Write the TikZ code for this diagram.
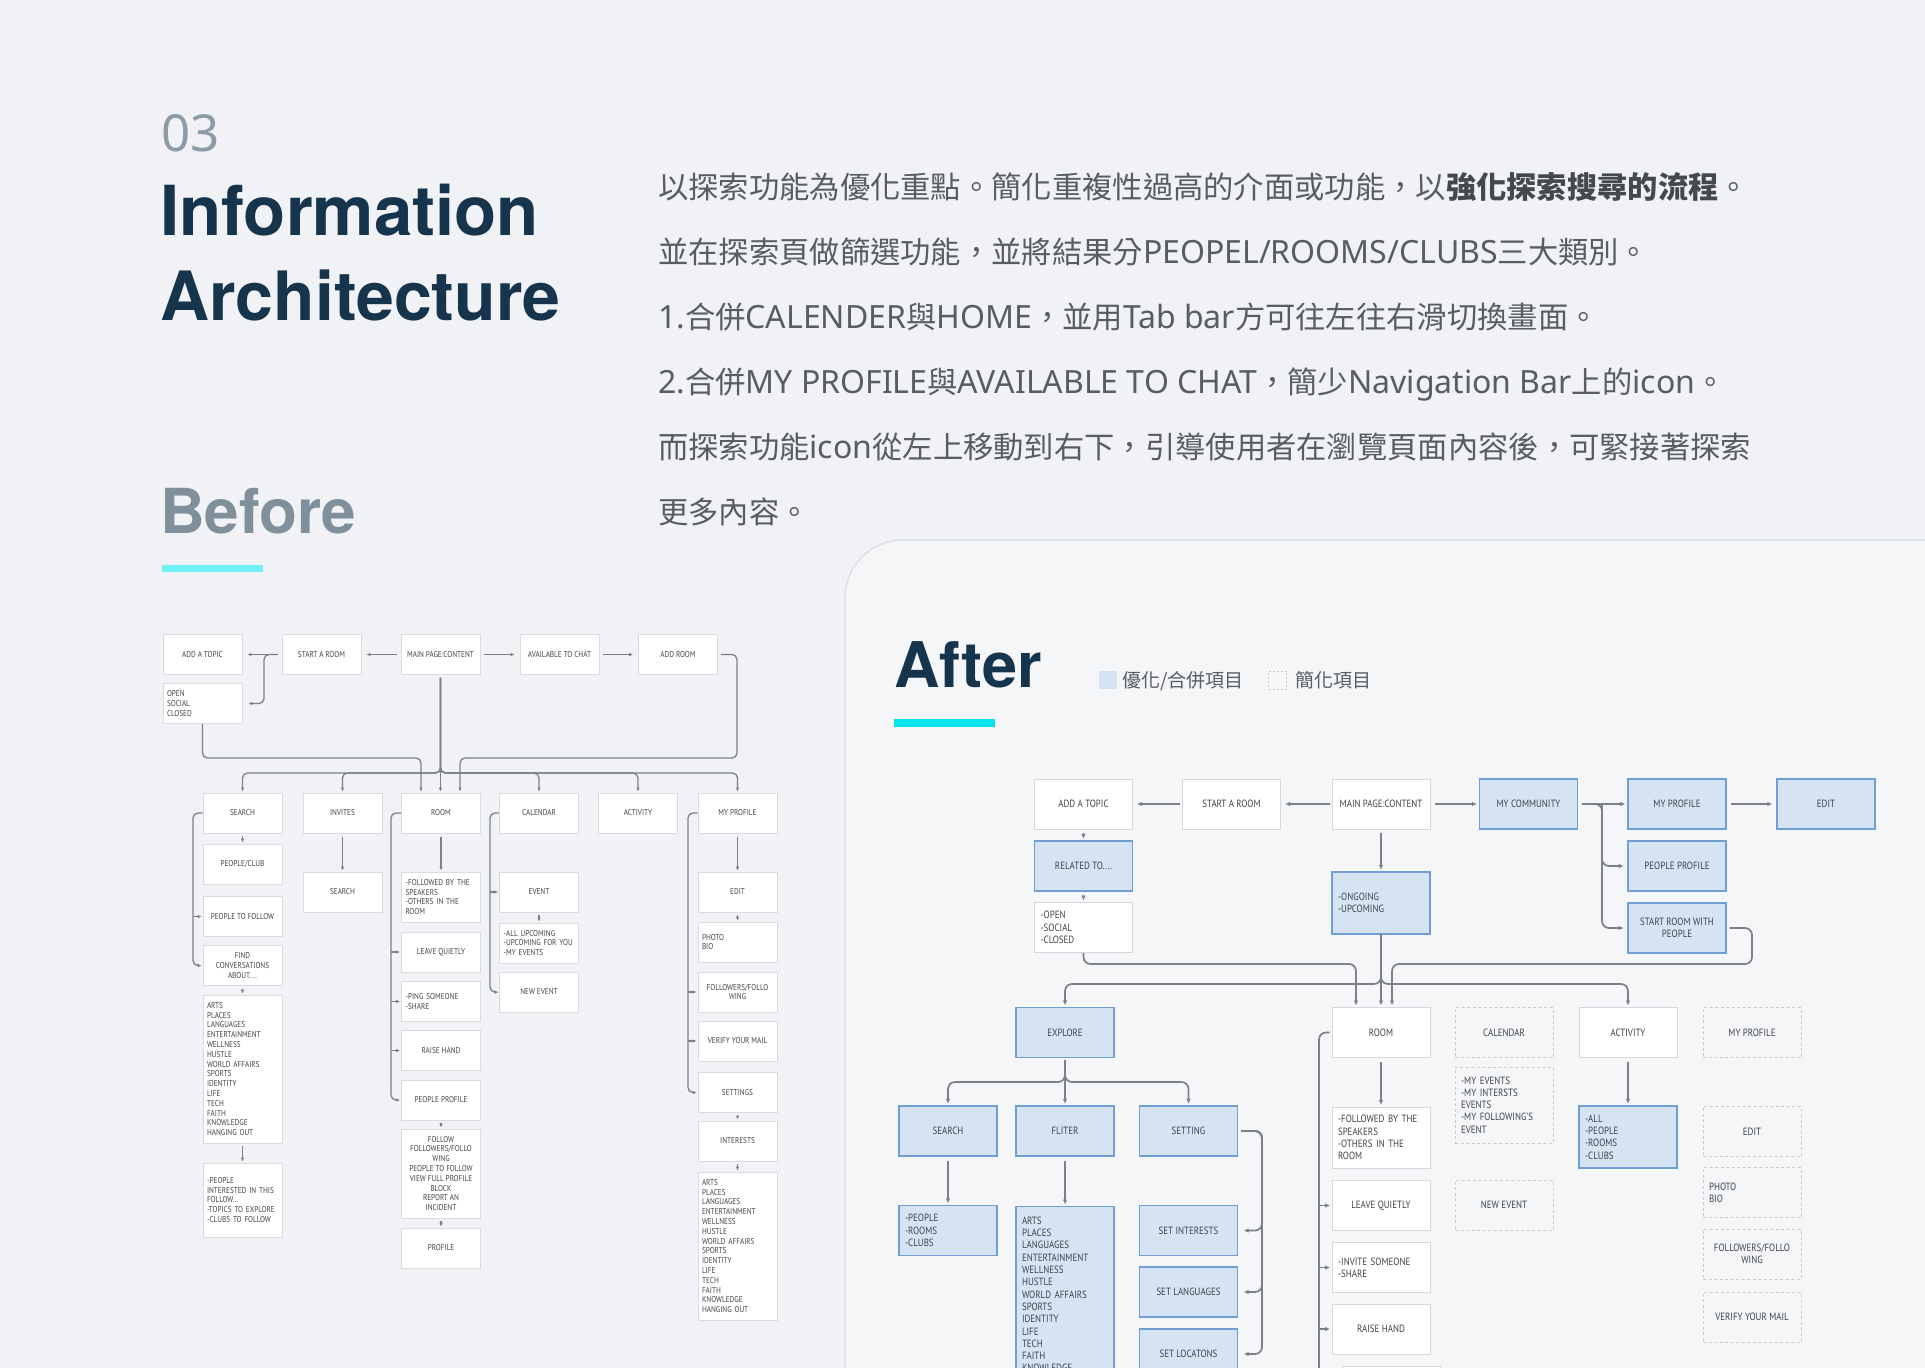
\documentclass[tikz,border=0pt]{standalone}
\usepackage{fontspec}
\usetikzlibrary{arrows.meta}
\newfontfamily\latfont{Noto Sans}
\newfontfamily\headfont{TeX Gyre Heros}
\newfontfamily\cjkfont{Noto Sans CJK TC}
\newfontfamily\boxfont[FakeStretch=0.85]{PT Sans}
\definecolor{pagebg}{HTML}{F0F2F5}
\definecolor{panelbg}{HTML}{F4F6F8}
\definecolor{panelline}{HTML}{DDE0E5}
\definecolor{navy}{HTML}{17344D}
\definecolor{grayzero}{HTML}{8C9BA6}
\definecolor{beforec}{HTML}{7F909B}
\definecolor{cyanA}{HTML}{6FF0F6}
\definecolor{cyanB}{HTML}{00E5EF}
\definecolor{para}{HTML}{595D62}
\definecolor{parab}{HTML}{45494E}
\definecolor{bbord}{HTML}{D8DCE1}
\definecolor{abord}{HTML}{D4D8DD}
\definecolor{bluefill}{HTML}{D5E3F3}
\definecolor{blueline}{HTML}{6F9FD3}
\definecolor{dashc}{HTML}{C6CAD0}
\definecolor{conn}{HTML}{7D8187}
\definecolor{txt}{HTML}{3E4349}
\newcommand\bxfont{\boxfont\fontsize{8.5}{9.8}\selectfont}
\newcommand\axfont{\boxfont\fontsize{10.5}{12.3}\selectfont}
\newcommand\latsz{\latfont\fontsize{32}{30.3}\selectfont}
\tikzset{
  bx/.style={draw=bbord, fill=white, line width=0.8pt, minimum width=79pt, minimum height=40pt,
    inner xsep=4pt, inner ysep=4pt, align=center, font=\bxfont, text=txt},
  bxl/.style={bx, text width=71pt, align=left},
  ax/.style={draw=abord, fill=white, line width=1pt, minimum width=98pt, minimum height=50pt,
    inner xsep=6pt, inner ysep=6pt, align=center, font=\axfont, text=txt},
  axl/.style={ax, text width=86pt, align=left},
  blu/.style={fill=bluefill, draw=blueline, line width=1.3pt},
  dsh/.style={fill=none, draw=dashc, line width=1pt, dash pattern=on 3pt off 2.5pt},
  bcon/.style={draw=conn, line width=1.3pt, rounded corners=5pt, shorten >=1pt, -{Latex[length=4pt,width=3.6pt]}},
  acon/.style={draw=conn, line width=1.7pt, rounded corners=7pt, shorten >=1.5pt, -{Latex[length=5pt,width=4.6pt]}},
  head/.style={anchor=base west, inner sep=0pt},
  ptext/.style={anchor=base west, inner sep=0pt, text=para, font=\cjkfont\fontsize{30.3}{30.3}\selectfont}
}
\begin{document}
\begin{tikzpicture}[x=1pt,y=-1pt]
\useasboundingbox (0,0) rectangle (1925,1368);
\clip (0,0) rectangle (1925,1368);
\fill[pagebg] (0,0) rectangle (1925,1368);
\path[fill=panelbg, draw=panelline, line width=1.5pt, rounded corners=58pt]
  (845,1440) -- (845,540) -- (1990,540) -- (1990,1440) -- cycle;

% ---------- headings ----------
\node[head, text=grayzero, font=\latfont\fontsize{51}{51}\selectfont] (h03) at (161,151) {03};
\node[head, text=navy, font=\headfont\bfseries\fontsize{69}{69}\selectfont] (hinfo) at (160,235) {Information};
\node[head, text=navy, font=\headfont\bfseries\fontsize{68}{68}\selectfont] (harch) at (160,320) {Architecture};
\node[head, text=beforec, font=\headfont\bfseries\fontsize{62}{62}\selectfont] (hbefore) at (160,533) {Before};
\fill[cyanA] (162,565) rectangle (263,572);
\node[head, text=navy, font=\headfont\bfseries\fontsize{63}{63}\selectfont] (hafter) at (894,687) {After};
\fill[cyanB] (894,719) rectangle (995,727);

% legend
\node[fill=bluefill, minimum size=18pt, inner sep=0pt] (leg1) at (1108,680) {};
\node[anchor=base west, inner sep=0pt, text=para, font=\cjkfont\fontsize{19}{19}\selectfont] (leg1t) at (1122,687) {優化/合併項目};
\node[draw=dashc, dash pattern=on 2pt off 2pt, line width=0.8pt, minimum size=18pt, inner sep=0pt] (leg2) at (1277.5,680) {};
\node[anchor=base west, inner sep=0pt, text=para, font=\cjkfont\fontsize{19}{19}\selectfont] (leg2t) at (1295,687) {簡化項目};

% ---------- paragraph ----------
\node[ptext] (p1) at (658,198) {以探索功能為優化重點。簡化重複性過高的介面或功能，以{\color{parab}\bfseries 強化探索搜尋的流程}。};
\node[ptext] (p2) at (658,263) {並在探索頁做篩選功能，並將結果分{\latsz PEOPEL/ROOMS/CLUBS}三大類別。};
\node[ptext] (p3) at (658,328) {{\latsz 1.}合併{\latsz CALENDER}與{\latsz HOME}，並用{\latsz Tab bar}方可往左往右滑切換畫面。};
\node[ptext] (p4) at (658,393) {{\latsz 2.}合併{\latsz MY PROFILE}與{\latsz AVAILABLE TO CHAT}，簡少{\latsz Navigation Bar}上的{\latsz icon}。};
\node[ptext] (p5) at (658,458) {而探索功能{\latsz icon}從左上移動到右下，引導使用者在瀏覽頁面內容後，可緊接著探索};
\node[ptext] (p6) at (658,523) {更多內容。};

% ---------- BEFORE ----------
\node[bx] (btopic) at (202.5,654.5) {ADD A TOPIC};
\node[bx] (bstart) at (321.5,654.5) {START A ROOM};
\node[bx] (bmain) at (440.5,654.5) {MAIN PAGE:CONTENT};
\node[bx] (bchat) at (559.5,654.5) {AVAILABLE TO CHAT};
\node[bx] (baddroom) at (678,654.5) {ADD ROOM};
\node[bxl] (bopen) at (202.5,703.5) {OPEN\\SOCIAL\\CLOSED};

\node[bx] (bsearch) at (242.5,813) {SEARCH};
\node[bx] (binvites) at (342.5,813) {INVITES};
\node[bx] (broom) at (441,813) {ROOM};
\node[bx] (bcal) at (539,813) {CALENDAR};
\node[bx] (bact) at (638,813) {ACTIVITY};
\node[bx] (bmyprof) at (737.5,813) {MY PROFILE};

\node[bx] (bpc) at (242.5,864) {PEOPLE/CLUB};
\node[bx] (bptf) at (242.5,916.5) {PEOPLE TO FOLLOW};
\node[bx] (bfind) at (242.5,965.5) {FIND\\CONVERSATIONS\\ABOUT....};
\node[bxl, minimum height=148pt] (barts) at (242.5,1069) {ARTS\\PLACES\\LANGUAGES\\ENTERTAINMENT\\WELLNESS\\HUSTLE\\WORLD~AFFAIRS\\SPORTS\\IDENTITY\\LIFE\\TECH\\FAITH\\KNOWLEDGE\\HANGING~OUT};
\node[bxl, minimum height=74pt] (bpint) at (242.5,1200) {-PEOPLE\\INTERESTED~IN~THIS\\FOLLOW...\\-TOPICS~TO~EXPLORE\\-CLUBS~TO~FOLLOW};

\node[bx] (bisearch) at (342.5,892) {SEARCH};

\node[bxl, minimum height=50pt] (bfol) at (441,897) {-FOLLOWED~BY~THE\\SPEAKERS\\-OTHERS~IN~THE\\ROOM};
\node[bx] (bleave) at (441,952) {LEAVE QUIETLY};
\node[bxl] (bping) at (441,1001.5) {-PING~SOMEONE\\-SHARE};
\node[bx] (braise) at (441,1050.5) {RAISE HAND};
\node[bx] (bpprof) at (441,1100) {PEOPLE PROFILE};
\node[bx, minimum height=89pt] (bfollow) at (441,1173.5) {FOLLOW\\FOLLOWERS/FOLLO\\WING\\PEOPLE TO FOLLOW\\VIEW FULL PROFILE\\BLOCK\\REPORT AN\\INCIDENT};
\node[bx] (bprofile) at (441,1248) {PROFILE};

\node[bx] (bevent) at (539,892) {EVENT};
\node[bxl] (ballup) at (539,943) {-ALL~UPCOMING\\-UPCOMING~FOR~YOU\\-MY~EVENTS};
\node[bx] (bnewev) at (539,992) {NEW EVENT};

\node[bx] (bedit) at (737.5,892) {EDIT};
\node[bxl] (bphoto) at (737.5,942) {PHOTO\\BIO};
\node[bx] (bfolw) at (737.5,992) {FOLLOWERS/FOLLO\\WING};
\node[bx] (bverify) at (737.5,1041) {VERIFY YOUR MAIL};
\node[bx] (bsettings) at (737.5,1092.5) {SETTINGS};
\node[bx] (binterests) at (737.5,1141) {INTERESTS};
\node[bxl, minimum height=148pt] (bartsb) at (737.5,1246) {ARTS\\PLACES\\LANGUAGES\\ENTERTAINMENT\\WELLNESS\\HUSTLE\\WORLD~AFFAIRS\\SPORTS\\IDENTITY\\LIFE\\TECH\\FAITH\\KNOWLEDGE\\HANGING~OUT};

% before helper coordinates
\coordinate (bret) at (0,758);
\coordinate (bbus) at (0,773);
\coordinate (brx) at (264,0);
\coordinate (arx) at (737,0);
\coordinate (sbx) at (193,0);
\coordinate (rbx) at (391,0);
\coordinate (cbx) at (490,0);
\coordinate (mbx) at (688,0);
\coordinate (brL) at ([xshift=-20pt]broom.north);
\coordinate (brR) at ([xshift=19pt]broom.north);

% before connectors
\draw[bcon, shorten <=4pt, shorten >=5pt] (bmain) -- (bstart);
\draw[bcon, shorten <=4pt, shorten >=5pt] (bstart) -- (btopic);
\draw[bcon] ([xshift=-4pt]bstart.west) -| (brx |- bopen.east) -- ([xshift=5pt]bopen.east);
\draw[bcon, shorten <=4pt, shorten >=5pt] (bmain) -- (bchat);
\draw[bcon, shorten <=4pt, shorten >=5pt] (bchat) -- (baddroom);
\draw[bcon] (bopen.south) |- (brL |- bret) -- (brL);
\draw[bcon] ([xshift=3pt]baddroom.east) -| (arx |- bret) -- (brR |- bret) -- (brR);
\foreach \nm in {bsearch,binvites,bcal,bact,bmyprof}
  \draw[bcon] ([yshift=-3pt]bmain.south) |- (\nm |- bbus) -- (\nm.north);
\draw[bcon] ([yshift=-3pt]bmain.south) -- (bmain.south |- broom.north);

\draw[bcon] (bsearch.west) -| (sbx |- bfind.west) -- (bfind.west);
\draw[bcon] (sbx |- bptf.west) -- (bptf.west);
\draw[bcon] (broom.west) -| (rbx |- bpprof.west) -- (bpprof.west);
\foreach \nm in {bleave,bping,braise}
  \draw[bcon] (rbx |- \nm.west) -- (\nm.west);
\draw[bcon] (bcal.west) -| (cbx |- bnewev.west) -- (bnewev.west);
\draw[bcon] (cbx |- bevent.west) -- (bevent.west);
\draw[bcon] (bmyprof.west) -| (mbx |- bsettings.west) -- (bsettings.west);
\foreach \nm in {bfolw,bverify}
  \draw[bcon] (mbx |- \nm.west) -- (\nm.west);

\draw[bcon, shorten <=4pt] (binvites) -- (bisearch);
\draw[bcon, shorten <=4pt] (broom) -- (bfol);
\draw[bcon, shorten <=4pt] (bmyprof) -- (bedit);
\draw[bcon, shorten <=3pt] (bsearch) -- (bpc);
\draw[bcon, shorten <=3pt] (bfind) -- (barts);
\draw[bcon, shorten <=3pt] (barts) -- (bpint);
\draw[bcon, shorten <=3pt] (bpprof) -- (bfollow);
\draw[bcon, shorten <=3pt] (bfollow) -- (bprofile);
\draw[bcon, shorten <=3pt] (bevent) -- (ballup);
\draw[bcon, shorten <=3pt] (bedit) -- (bphoto);
\draw[bcon, shorten <=3pt] (bsettings) -- (binterests);
\draw[bcon, shorten <=3pt] (binterests) -- (bartsb);

% ---------- AFTER ----------
\node[ax] (atopic) at (1083.5,804) {ADD A TOPIC};
\node[ax] (astart) at (1231.5,804) {START A ROOM};
\node[ax] (amain) at (1381,804) {MAIN PAGE:CONTENT};
\node[ax, blu] (acomm) at (1528.5,804) {MY COMMUNITY};
\node[ax, blu] (amyprof) at (1677,804) {MY PROFILE};
\node[ax, blu] (aedit) at (1826,804) {EDIT};
\node[ax, blu] (arel) at (1083.5,866) {RELATED TO....};
\node[axl] (aopen) at (1083.5,927.5) {-OPEN\\-SOCIAL\\-CLOSED};
\node[axl, blu, minimum height=62pt] (aongo) at (1381,903) {-ONGOING\\-UPCOMING};
\node[ax, blu] (approf) at (1677,866) {PEOPLE PROFILE};
\node[ax, blu] (asrwp) at (1677,928) {START ROOM WITH\\PEOPLE};

\node[ax, blu] (aexplore) at (1065,1032.5) {EXPLORE};
\node[ax] (aroom) at (1381,1032.5) {ROOM};
\node[ax, dsh] (acal) at (1504,1032.5) {CALENDAR};
\node[ax] (aact) at (1628,1032.5) {ACTIVITY};
\node[ax, dsh] (amyprofb) at (1752,1032.5) {MY PROFILE};

\node[ax, blu] (asearch) at (948,1131) {SEARCH};
\node[ax, blu] (afilter) at (1065,1131) {FLITER};
\node[ax, blu] (asetting) at (1188.5,1131) {SETTING};
\node[axl, blu] (apeople) at (948,1230.5) {-PEOPLE\\-ROOMS\\-CLUBS};
\node[axl, blu, minimum height=188pt, anchor=north] (aarts) at (1065,1206) {ARTS\\PLACES\\LANGUAGES\\ENTERTAINMENT\\WELLNESS\\HUSTLE\\WORLD~AFFAIRS\\SPORTS\\IDENTITY\\LIFE\\TECH\\FAITH\\KNOWLEDGE\\HANGING~OUT};
\node[ax, blu] (asetint) at (1188.5,1230.5) {SET INTERESTS};
\node[ax, blu] (asetlang) at (1188.5,1292) {SET LANGUAGES};
\node[ax, blu] (asetloc) at (1188.5,1354) {SET LOCATONS};

\node[axl, minimum height=61pt] (afol) at (1381,1137.5) {-FOLLOWED~BY~THE\\SPEAKERS\\-OTHERS~IN~THE\\ROOM};
\node[ax] (aleave) at (1381,1205.5) {LEAVE QUIETLY};
\node[axl] (ainvite) at (1381,1267.5) {-INVITE~SOMEONE\\-SHARE};
\node[ax] (araise) at (1381,1329) {RAISE HAND};
\node[ax] (anext) at (1391,1391) {};

\node[axl, dsh, minimum height=76pt] (amyev) at (1504,1105) {-MY~EVENTS\\-MY~INTERSTS\\EVENTS\\-MY~FOLLOWING'S\\EVENT};
\node[ax, dsh] (anewev) at (1504,1205) {NEW EVENT};
\node[axl, blu, minimum height=62pt] (aall) at (1628,1137) {-ALL\\-PEOPLE\\-ROOMS\\-CLUBS};
\node[ax, dsh] (aeditb) at (1752,1131.5) {EDIT};
\node[axl, dsh] (aphoto) at (1752,1192.5) {PHOTO\\BIO};
\node[ax, dsh] (afolw) at (1752,1254) {FOLLOWERS/FOLLO\\WING};
\node[ax, dsh] (averify) at (1752,1317) {VERIFY YOUR MAIL};

% after helper coordinates
\coordinate (atop) at (0,964);
\coordinate (abus) at (0,984);
\coordinate (ebus) at (0,1082);
\coordinate (cmx) at (1602,0);
\coordinate (srx) at (1752,0);
\coordinate (stx) at (1262,0);
\coordinate (arbx) at (1319,0);
\coordinate (arL) at ([xshift=-25pt]aroom.north);
\coordinate (arR) at ([xshift=11pt]aroom.north);

% after connectors
\draw[acon, shorten <=2pt, shorten >=4pt] (astart) -- (atopic);
\draw[acon, shorten <=2pt, shorten >=4pt] (amain) -- (astart);
\draw[acon, shorten <=4pt, shorten >=2pt] (amain) -- (acomm);
\draw[acon, shorten <=4pt, shorten >=2pt] (acomm) -- (amyprof);
\draw[acon, shorten <=4pt, shorten >=4pt] (amyprof) -- (aedit);
\draw[acon] ([xshift=4pt]acomm.east) -| (cmx |- asrwp.west) -- ([xshift=-2pt]asrwp.west);
\draw[acon] (cmx |- acomm.east) |- ([xshift=-2pt]approf.west);
\draw[acon, shorten <=3pt] (atopic) -- (arel);
\draw[acon, shorten <=3pt] (arel) -- (aopen);
\draw[acon, shorten <=3pt] (amain) -- (aongo);
\draw[acon] (aopen.south) |- (arL |- atop) -- (arL);
\draw[acon] ([xshift=3pt]asrwp.east) -| (srx |- atop) -- (arR |- atop) -- (arR);
\foreach \nm in {aexplore,aact}
  \draw[acon] (aongo.south) |- (\nm |- abus) -- (\nm.north);
\draw[acon] (aongo.south) -- (aroom.north);
\foreach \nm in {asearch,asetting}
  \draw[acon] ([yshift=-2pt]aexplore.south) |- (\nm |- ebus) -- (\nm.north);
\draw[acon, shorten <=2pt] (aexplore) -- (afilter);
\draw[acon, shorten <=4pt] (asearch) -- (apeople);
\draw[acon, shorten <=4pt] (afilter) -- (aarts.north);
\foreach \nm in {asetint,asetlang,asetloc}
  \draw[acon] ([xshift=3pt]asetting.east) -| (stx |- \nm.east) -- ([xshift=4pt]\nm.east);
\draw[acon] ([xshift=-2pt]aroom.west) -| (arbx |- anext.west) -- (anext.west);
\foreach \nm in {aleave,ainvite,araise}
  \draw[acon] (arbx |- \nm.west) -- (\nm.west);
\draw[acon, shorten <=4pt] (aroom) -- (afol);
\draw[acon, shorten <=4pt] (aact) -- (aall);
\end{tikzpicture}
\end{document}
